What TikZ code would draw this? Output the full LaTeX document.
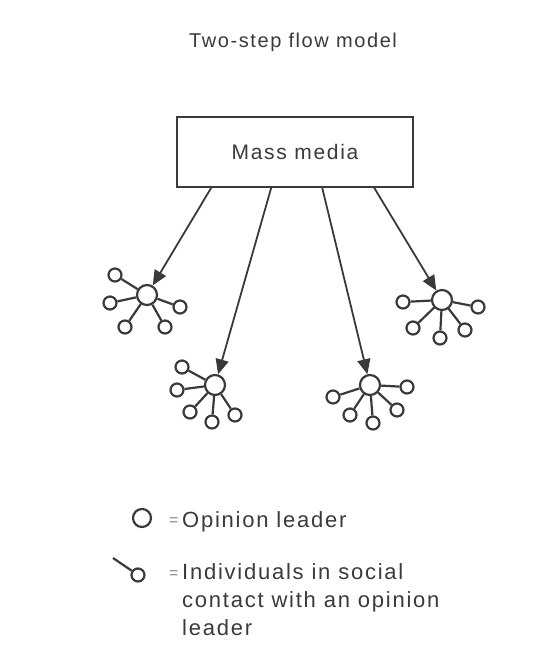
\documentclass[tikz,border=0pt]{standalone}
\usepackage{fontspec}
\usepackage{tikz}
\usetikzlibrary{positioning, arrows.meta}
\usepackage{xcolor}
\newfontfamily\labelfont[LetterSpace=8]{Liberation Sans}
\definecolor{ink}{HTML}{3A3A3A}

\begin{document}
\begin{tikzpicture}[x=1pt, y=-1pt, on grid,
    leader/.style={circle, draw=ink, line width=2.2pt, minimum size=20pt, inner sep=0pt},
    member/.style={circle, draw=ink, line width=2.2pt, minimum size=13pt, inner sep=0pt},
    spoke/.style={draw=ink, line width=2.2pt},
    flow/.style={draw=ink, line width=1.8pt, -{Triangle[length=15pt, width=13pt]}},
    caption/.style={text=ink, font=\labelfont\fontsize{22}{28}\selectfont, inner sep=0pt},
    equals/.style={text=ink!60, font=\labelfont\fontsize{16}{20}\selectfont, inner sep=0pt}]
    \useasboundingbox (0,0) rectangle (539,646);

    % Title and source
    \node[text=ink, font=\labelfont\fontsize{20}{24}\selectfont, anchor=base] (title) at (293,47) {Two-step flow model};
    \node[draw=ink, line width=1.6pt, minimum width=236pt, minimum height=70pt,
          text=ink, font=\labelfont\fontsize{21}{24}\selectfont] (media) at (295,152) {Mass media};

    % Opinion leaders
    \node[leader] (h1) at (147,295) {};
    \node[leader] (h2) at (215,385) {};
    \node[leader] (h3) at (370,385) {};
    \node[leader] (h4) at (442,300) {};

    % Followers of leader 1
    \node[member, above left=20pt and 32pt of h1] (h1a) {};
    \node[member, below left=8pt and 37pt of h1] (h1b) {};
    \node[member, below left=32pt and 22pt of h1] (h1c) {};
    \node[member, below right=32pt and 18pt of h1] (h1d) {};
    \node[member, below right=12pt and 33pt of h1] (h1e) {};

    % Followers of leader 2
    \node[member, above left=18pt and 33pt of h2] (h2a) {};
    \node[member, below left=5pt and 38pt of h2] (h2b) {};
    \node[member, below left=27pt and 25pt of h2] (h2c) {};
    \node[member, below left=37pt and 3pt of h2] (h2d) {};
    \node[member, below right=30pt and 20pt of h2] (h2e) {};

    % Followers of leader 3
    \node[member, below left=12pt and 37pt of h3] (h3a) {};
    \node[member, below left=30pt and 20pt of h3] (h3b) {};
    \node[member, below right=38pt and 3pt of h3] (h3c) {};
    \node[member, below right=25pt and 27pt of h3] (h3d) {};
    \node[member, below right=2pt and 37pt of h3] (h3e) {};

    % Followers of leader 4
    \node[member, below left=2pt and 39pt of h4] (h4a) {};
    \node[member, below left=28pt and 29pt of h4] (h4b) {};
    \node[member, below left=38pt and 2pt of h4] (h4c) {};
    \node[member, below right=30pt and 23pt of h4] (h4d) {};
    \node[member, below right=7pt and 36pt of h4] (h4e) {};

    \path[spoke]
        (h1) edge (h1a) (h1) edge (h1b) (h1) edge (h1c) (h1) edge (h1d) (h1) edge (h1e)
        (h2) edge (h2a) (h2) edge (h2b) (h2) edge (h2c) (h2) edge (h2d) (h2) edge (h2e)
        (h3) edge (h3a) (h3) edge (h3b) (h3) edge (h3c) (h3) edge (h3d) (h3) edge (h3e)
        (h4) edge (h4a) (h4) edge (h4b) (h4) edge (h4c) (h4) edge (h4d) (h4) edge (h4e);

    % Media to leaders
    \path
        ([xshift=35pt]media.south west) edge[flow] (h1)
        ([xshift=95pt]media.south west) edge[flow] (h2)
        ([xshift=146pt]media.south west) edge[flow] (h3)
        ([xshift=198pt]media.south west) edge[flow] (h4);

    % Key
    \node[leader, minimum size=18pt] (key1) at (142,518) {};
    \node[equals, anchor=base west] (eq1) at (169,525) {=};
    \node[caption, anchor=base west] (txt1) at (182,527) {Opinion leader};

    \node[member] (key2) at (138,575) {};
    \coordinate[above left=17pt and 25pt of key2] (stub);
    \draw[spoke] (stub) -- (key2);
    \node[equals, anchor=base west] (eq2) at (169,578) {=};
    \node[caption, anchor=north west, align=left] (txt2) at (182,563)
        {Individuals in social\\contact with an opinion\\leader};
\end{tikzpicture}
\end{document}
